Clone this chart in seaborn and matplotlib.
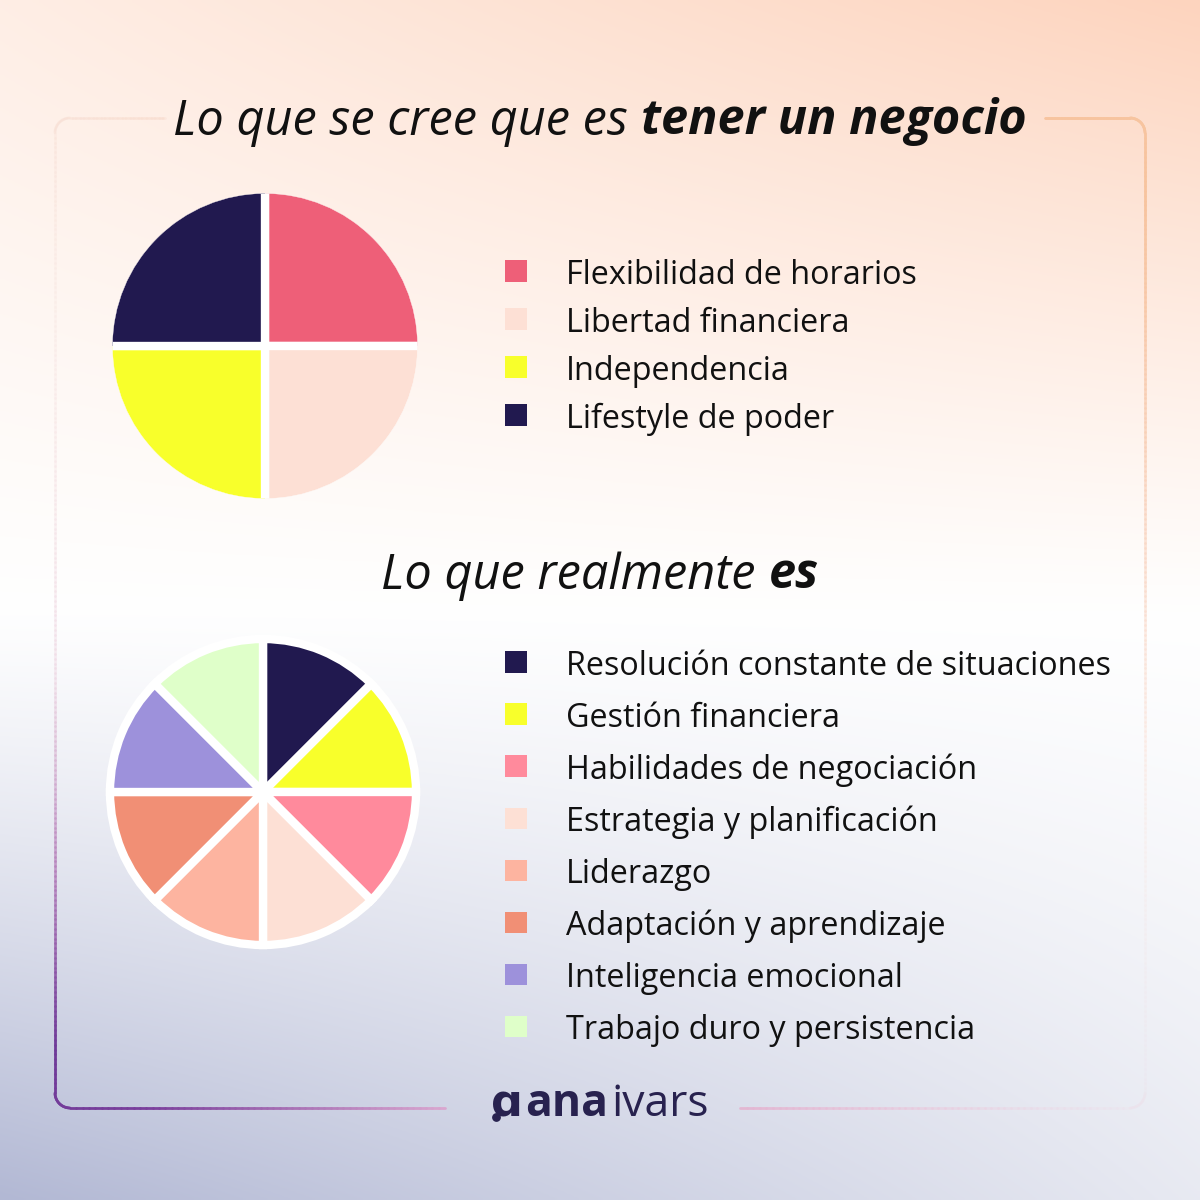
import numpy as np
import matplotlib
matplotlib.use("Agg")
import matplotlib.pyplot as plt
import seaborn as sns
from matplotlib.collections import LineCollection
from matplotlib.colors import to_rgba
from matplotlib.patches import Circle

sns.set_theme(style="white")
plt.rcParams['font.family'] = ['Open Sans', 'DejaVu Sans']

# --- datos ---
mito_labels = ["Flexibilidad de horarios", "Libertad financiera", "Independencia", "Lifestyle de poder"]
mito_values = [1, 1, 1, 1]
mito_colors = ["#ee5f78", "#fde0d5", "#f8ff2b", "#21194f"]

real_labels = ["Resolución constante de situaciones", "Gestión financiera",
               "Habilidades de negociación", "Estrategia y planificación",
               "Liderazgo", "Adaptación y aprendizaje",
               "Inteligencia emocional", "Trabajo duro y persistencia"]
real_values = [1, 1, 1, 1, 1, 1, 1, 1]
real_colors = ["#21194f", "#f8ff2b", "#ff8a9c", "#fde0d5",
               "#fdb4a0", "#f18f75", "#9d91db", "#dfffc9"]

titulo1 = ("Lo que se cree que es ", "tener un negocio")
titulo2 = ("Lo que realmente ", "es")
marca = ("ana", "ivars")

W = H = 1200
fig = plt.figure(figsize=(12, 12), dpi=100)

# fondo degradado + marco
bg = fig.add_axes([0, 0, 1, 1])
bg.set_xlim(0, W)
bg.set_ylim(H, 0)
bg.axis("off")
yy, xx = np.mgrid[0:1:400j, 0:1:400j]
peach = np.array([253, 212, 190]) / 255
blue = np.array([178, 184, 212]) / 255
w1 = np.clip((0.52 - yy) / 0.52, 0, 1) ** 1.1 * (0.4 + 0.6 * xx)
w2 = np.clip((yy - 0.5) / 0.5, 0, 1) ** 1.2 * (1 - 0.7 * xx)
img = 1 - w1[..., None] * (1 - peach) - w2[..., None] * (1 - blue)
bg.imshow(img, extent=[0, W, H, 0], aspect="auto", zorder=0)


def arc(cx, cy, r, a0, a1):
    t = np.radians(np.linspace(a0, a1, 20))
    return np.column_stack([cx + r * np.cos(t), cy + r * np.sin(t)])


def seg(p0, p1, n=60):
    return np.column_stack([np.linspace(p0[0], p1[0], n), np.linspace(p0[1], p1[1], n)])


def draw_frame(pts, keys):
    d = np.r_[0, np.cumsum(np.hypot(*np.diff(pts, axis=0).T))]
    f = d / d[-1]
    kf = [k[0] for k in keys]
    kc = np.array([to_rgba(k[1], k[2]) for k in keys])
    cols = np.column_stack([np.interp(f, kf, kc[:, i]) for i in range(4)])
    segs = np.stack([pts[:-1], pts[1:]], axis=1)
    bg.add_collection(LineCollection(segs, colors=cols[:-1], linewidths=2.0,
                                     capstyle="round", zorder=2))


r = 15
path_a = np.vstack([seg((445, 1108), (70, 1108)), arc(70, 1093, r, 90, 180),
                    seg((55, 1093), (55, 133), 200), arc(70, 133, r, 180, 270),
                    seg((70, 118), (165, 118))])
draw_frame(path_a, [(0, "#d9a6cf", 1.0), (0.2, "#7a3f9c", 1.0), (0.3, "#6f3a98", 1.0),
                    (0.42, "#b27ab8", 0.7), (0.55, "#e8c4d6", 0.3), (0.8, "#f5dcd8", 0.15),
                    (1.0, "#f8d8c8", 0.3)])
path_b = np.vstack([seg((1045, 118), (1130, 118)), arc(1130, 133, r, 270, 360),
                    seg((1145, 133), (1145, 1093), 200), arc(1130, 1093, r, 0, 90),
                    seg((1130, 1108), (740, 1108))])
draw_frame(path_b, [(0, "#f7c49f", 1.0), (0.12, "#f7c49f", 1.0), (0.35, "#f9d4c0", 0.6),
                    (0.55, "#fbe6e0", 0.2), (0.7, "#f2e0ea", 0.1), (0.8, "#eed2e2", 0.3),
                    (1.0, "#e3b6d2", 1.0)])


def titulo(parts, y, size):
    t1 = bg.text(0, y, parts[0], fontsize=size, style="italic", weight="normal",
                 color="#111111", va="center", ha="left", zorder=3)
    t2 = bg.text(0, y, parts[1], fontsize=size, style="italic", weight="bold",
                 color="#111111", va="center", ha="left", zorder=3)
    rend = fig.canvas.get_renderer()
    w_a = t1.get_window_extent(rend).width
    w_b = t2.get_window_extent(rend).width
    x0 = 600 - (w_a + w_b) / 2
    t1.set_x(x0)
    t2.set_x(x0 + w_a)


titulo(titulo1, 122, 35)
titulo(titulo2, 576, 35)

# logo
rend = fig.canvas.get_renderer()
navy = "#28224f"
lm = bg.text(0, 1105, "ɑ", fontsize=32, weight="bold", color=navy, va="center", ha="left", zorder=3)
l1 = bg.text(0, 1105, marca[0], fontsize=32, weight="bold", color=navy, va="center", ha="left", zorder=3)
l2 = bg.text(0, 1105, marca[1], fontsize=32, weight="normal", color=navy, va="center", ha="left", zorder=3)
wm = lm.get_window_extent(rend).width
wa = l1.get_window_extent(rend).width
wb = l2.get_window_extent(rend).width
x0 = 600 - (wm + 2 + wa + 4 + wb) / 2
lm.set_x(x0)
l1.set_x(x0 + wm + 2)
l2.set_x(x0 + wm + 2 + wa + 4)
bg.scatter([x0 + 5], [1117], s=28, color=navy, zorder=4)


def pie(values, colors, cx, cy, rad, ring):
    ax = fig.add_axes([(cx - rad) / W, 1 - (cy + rad) / H, 2 * rad / W, 2 * rad / H])
    wedges, _ = ax.pie(values, colors=colors, startangle=90, counterclock=False,
                       wedgeprops=dict(edgecolor="white", linewidth=6))
    ax.set_xlim(-1, 1)
    ax.set_ylim(-1, 1)
    ax.axis("off")
    if not ring:
        clip = Circle((0, 0), 1 - 4 / rad, transform=ax.transData)
        for w in wedges:
            w.set_clip_on(True)
            w.set_clip_path(clip)
    return ax


def leyenda(labels, colors, y_first, step):
    n = len(labels)
    top = y_first - step / 2
    ax = fig.add_axes([500 / W, 1 - (top + n * step) / H, 680 / W, n * step / H])
    ax.set_xlim(0, 680)
    ax.set_ylim(n - 0.5, -0.5)
    ax.axis("off")
    ax.scatter(np.full(n, 16), np.arange(n), marker="s", s=240, c=colors, linewidths=0)
    for i, lab in enumerate(labels):
        ax.text(66, i, lab, fontsize=23.3, color="#111111", va="center_baseline", ha="left")
    return ax


pie(mito_values, mito_colors, 265, 346, 156.5, False)
leyenda(mito_labels, mito_colors, 271, 48)
pie(real_values, real_colors, 263, 792, 153, True)
leyenda(real_labels, real_colors, 662, 52.1)

fig.savefig("out.png", dpi=100)
